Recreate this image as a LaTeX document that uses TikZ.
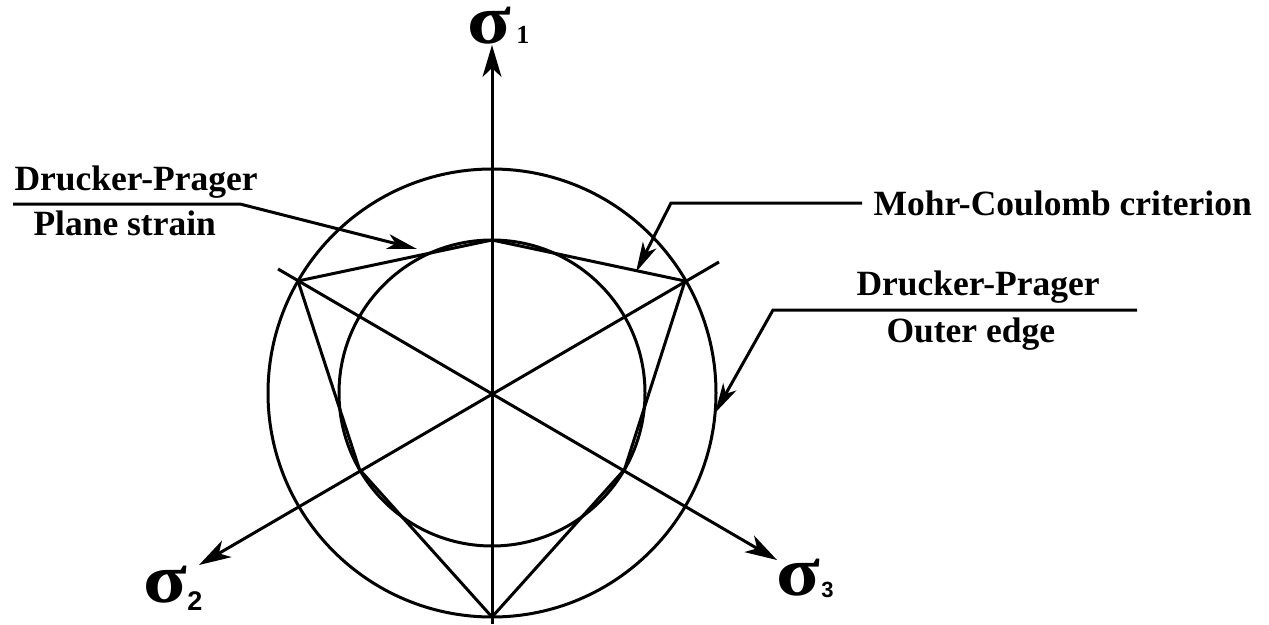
\documentclass[tikz,border=0pt]{standalone}
\usepackage{fontspec}
\setmainfont{Liberation Serif}
\newfontfamily\sansb{Liberation Sans}
\usetikzlibrary{arrows.meta}
\begin{document}
\begin{tikzpicture}[x=1pt,y=-1pt, line width=3pt,
  lbl/.style={inner sep=0pt, anchor=base west, font=\fontsize{35.5}{36}\selectfont\bfseries},
  sig/.style={inner sep=0pt, anchor=base west, font=\fontsize{70}{70}\selectfont\bfseries},
  axisarrow/.style={-{Stealth[length=32pt,width=19pt,inset=9pt]}},
  leader/.style={-{Stealth[length=30pt,width=15pt,inset=8pt]}, line join=miter}]
\useasboundingbox (0,0) rectangle (1269,624);
\coordinate (O) at (492,393);
% circles
\draw (O) circle[radius=224pt];
\draw (O) circle[radius=153pt];
% Mohr-Coulomb hexagon
\coordinate (A1) at (298,281);
\coordinate (A2) at (685,281);
\coordinate (A3) at (492,617);
\coordinate (B1) at (492,240);
\coordinate (B2) at (359.5,469.5);
\coordinate (B3) at (624.5,469.5);
\draw[line join=miter] (A1)--(B1)--(A2)--(B3)--(A3)--(B2)--cycle;
% axes
\coordinate (s1b) at (492,624);
\coordinate (s1t) at (492,45);
\coordinate (s2b) at (719,262);
\coordinate (s2t) at (199,565);
\coordinate (s3b) at (278,269);
\coordinate (s3t) at (777,560);
\draw[axisarrow] (s1b) -- (s1t);
\draw[axisarrow] (s2b) -- (s2t);
\draw[axisarrow] (s3b) -- (s3t);
% axis labels
\node[sig] (sig1) at (466,43) {\scalebox{1.15}[1]{σ}\kern5pt{\fontsize{26}{26}\selectfont 1}};
\node[sig] (sig2) at (142,602) {\scalebox{1.15}[1]{σ}\kern0pt\raisebox{-8pt}{\sansb\bfseries\fontsize{27}{27}\selectfont 2}};
\node[sig] (sig3) at (775,595) {\scalebox{1.15}[1]{σ}\kern1pt\raisebox{-2pt}{\sansb\bfseries\fontsize{22}{22}\selectfont 3}};
% text labels
\node[lbl] (dp1) at (13,190) {Drucker-Prager};
\node[lbl] (ps) at (32,235) {Plane strain};
\node[lbl] (mc) at (872,215) {Mohr-Coulomb criterion};
\node[lbl] (dp2) at (855,295) {Drucker-Prager};
\node[lbl] (oe) at (885,342) {Outer edge};
% leaders
\coordinate (L1a) at (13,204);
\coordinate (L1b) at (240,204);
\coordinate (L1c) at (417,249);
\draw[leader] (L1a) -- (L1b) -- (L1c);
\coordinate (L2a) at (862,203);
\coordinate (L2b) at (671,203);
\coordinate (L2c) at (636,272);
\draw[leader] (L2a) -- (L2b) -- (L2c);
\coordinate (L3a) at (1137,310);
\coordinate (L3b) at (773,310);
\coordinate (L3c) at (715,413);
\draw[leader] (L3a) -- (L3b) -- (L3c);
\end{tikzpicture}
\end{document}
